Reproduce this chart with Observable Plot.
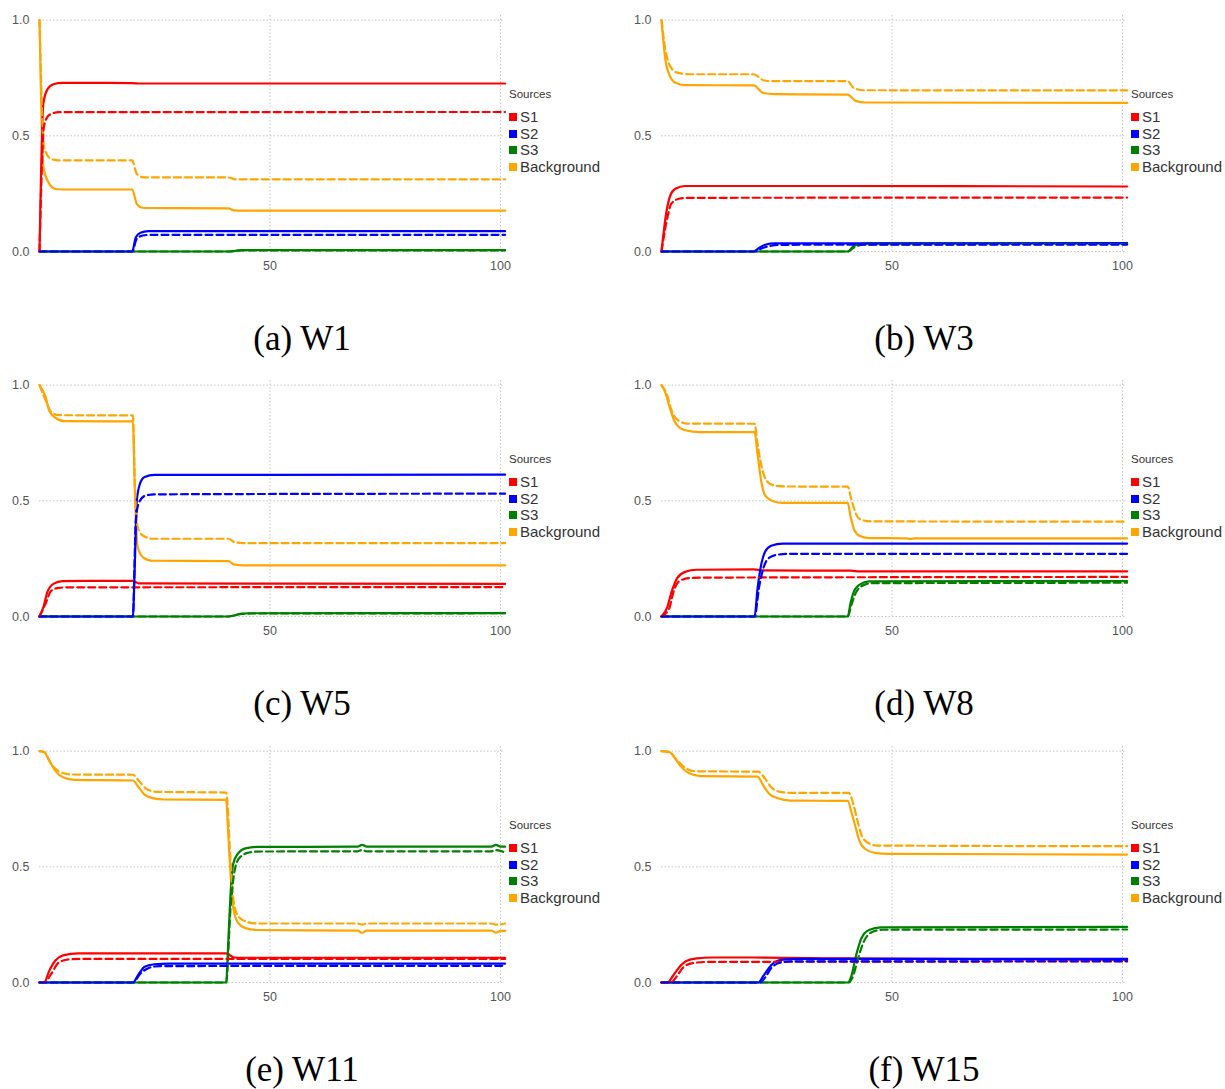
<!DOCTYPE html>
<html><head><meta charset="utf-8">
<script src="https://cdn.jsdelivr.net/npm/d3@7"></script>
<script src="https://cdn.jsdelivr.net/npm/@observablehq/plot@0.6"></script>
<style>
body{margin:0;background:#fff;}
#page{position:relative;width:1225px;height:1089px;overflow:hidden;background:#fff;}
.panel{position:absolute;width:612px;height:290px;}
.panel svg{max-width:none !important;}
.legend{position:absolute;font-family:"Liberation Sans",Arial,sans-serif;color:#333;}
.legend .title{font-size:11.5px;line-height:16px;height:16px;margin-bottom:7px;}
.legend .item{font-size:15px;line-height:16.6px;height:16.6px;display:flex;align-items:center;white-space:nowrap;}
.legend .sw{width:8px;height:8px;margin-right:3px;flex:none;}
.caption{position:absolute;font-family:"Liberation Serif","Times New Roman",serif;font-size:35px;line-height:35px;text-align:center;color:#000;white-space:nowrap;}
</style></head>
<body><div id="page"></div>
<script>
// ---- categories / styles ----
const sources = ["S1", "S2", "S3", "Background"];
const sourceColors = ["#ff0000", "#0000ff", "#008000", "#ffa500"];
const panelNames = ["W1", "W3", "W5", "W8", "W11", "W15"];
const panelLetters = ["a", "b", "c", "d", "e", "f"];
const xTicks = [50, 100];
const yTicks = [0, 0.5, 1];

// ---- W1 (solid / dashed) ----
const w1S1 = [[0,0],[0.84,0.64],[1.7,0.70],[3,0.723],[5,0.729],[20,0.728],[22,0.726],[101,0.726]];
const w1S1d = [[0,0],[1,0.545],[2.1,0.59],[4.2,0.602],[101,0.603]];
const w1S2 = [[0,0],[20.1,0],[20.9,0.062],[21.9,0.081],[23.6,0.088],[101,0.088]];
const w1S2d = [[0,0],[20.1,0],[21.1,0.055],[22.4,0.069],[24,0.072],[101,0.072]];
const w1S3 = [[0,0],[41,0],[43.9,0.006],[101,0.006]];
const w1S3d = [[0,0],[41,0],[44,0.005],[101,0.005]];
const w1Bg = [[0,1],[0.84,0.365],[1.9,0.30],[3.4,0.27],[5,0.268],[20.1,0.268],[21.1,0.206],[22.4,0.189],[24,0.188],[41,0.186],[42.2,0.178],[44,0.177],[101,0.177]];
const w1Bgd = [[0,1],[1.0,0.45],[2.5,0.40],[4.2,0.394],[20.1,0.394],[21.1,0.336],[22.8,0.32],[41,0.32],[42.5,0.312],[101,0.312]];

// ---- W3 ----
const w3S1 = [[0,0],[1,0.163],[1.9,0.242],[3,0.271],[5.1,0.283],[40,0.283],[101,0.281]];
const w3S1d = [[0,0],[1.3,0.149],[2.1,0.206],[3.8,0.228],[6,0.232],[101,0.233]];
const w3S2 = [[0,0],[20,0],[21.2,0.016],[22.5,0.029],[24.6,0.035],[101,0.036]];
const w3S2d = [[0,0],[20,0],[22.1,0.016],[23.8,0.025],[26,0.029],[101,0.030]];
const w3S3 = [[0,0],[40.4,0],[41.6,0.022],[43.3,0.033],[45,0.035],[101,0.036]];
const w3S3d = [[0,0],[40.4,0],[42,0.02],[44,0.03],[101,0.032]];
const w3Bg = [[0,1],[0.85,0.827],[1.9,0.755],[3,0.729],[5.1,0.719],[20,0.718],[22.1,0.685],[24.6,0.68],[40.4,0.678],[42.1,0.651],[44.2,0.644],[101,0.642]];
const w3Bgd = [[0,1],[0.85,0.87],[1.9,0.80],[3.4,0.773],[6,0.766],[20,0.766],[22.1,0.74],[23.8,0.736],[40.4,0.736],[41.6,0.708],[43.8,0.697],[101,0.696]];

// ---- W5 ----
const w5S1 = [[0,0],[0.84,0.04],[1.7,0.105],[3,0.141],[5,0.153],[20.3,0.154],[21.5,0.143],[101,0.141]];
const w5S1d = [[0,0],[1.3,0.055],[2.5,0.11],[4.2,0.124],[6,0.126],[101,0.127]];
const w5S2 = [[0,0],[20.25,0],[20.7,0.24],[21.1,0.50],[21.8,0.574],[22.8,0.603],[24.9,0.612],[101,0.613]];
const w5S2d = [[0,0],[20.25,0],[20.9,0.416],[21.5,0.488],[22.8,0.521],[24.9,0.528],[101,0.531]];
const w5S3 = [[0,0],[41,0],[42.2,0.004],[43.5,0.012],[45.6,0.014],[101,0.015]];
const w5S3d = [[0,0],[41,0],[42.5,0.006],[44,0.011],[46,0.013],[101,0.014]];
const w5Bg = [[0,1],[1.3,0.95],[2.1,0.89],[3.4,0.86],[5.5,0.844],[20.25,0.843],[20.7,0.53],[21.3,0.30],[22.4,0.257],[24.5,0.241],[41,0.239],[42.2,0.225],[44.3,0.221],[101,0.221]];
const w5Bgd = [[0,1],[1.3,0.935],[2.5,0.885],[4.2,0.87],[20.25,0.869],[20.7,0.56],[21.3,0.387],[22.4,0.35],[24.5,0.336],[41,0.336],[42.2,0.322],[44.3,0.317],[101,0.317]];

// ---- W8 ----
const w8S1 = [[0,0],[1.3,0.043],[2.1,0.101],[3.4,0.166],[5.1,0.193],[7.6,0.202],[20,0.204],[22,0.199],[41,0.198],[43,0.195],[101,0.195]];
const w8S1d = [[0,0],[1.7,0.036],[2.5,0.10],[3.8,0.152],[6,0.166],[9,0.168],[101,0.171]];
const w8S2 = [[0,0],[20.2,0],[20.8,0.115],[21.7,0.231],[22.5,0.281],[23.8,0.306],[26.3,0.315],[101,0.315]];
const w8S2d = [[0,0],[20.2,0],[21.2,0.13],[22.1,0.209],[23.3,0.253],[25.5,0.268],[28,0.271],[101,0.271]];
const w8S3 = [[0,0],[40.4,0],[41,0.058],[41.6,0.101],[42.9,0.137],[45,0.152],[101,0.153]];
const w8S3d = [[0,0],[40.4,0],[41.2,0.05],[42.1,0.1],[43.3,0.13],[45.5,0.144],[101,0.146]];
const w8Bg = [[0,1],[0.85,0.967],[1.7,0.909],[3,0.837],[5.1,0.805],[8.5,0.797],[20.2,0.797],[20.8,0.707],[21.7,0.577],[22.5,0.522],[24.2,0.498],[26.3,0.491],[40.4,0.491],[41,0.433],[41.8,0.375],[42.9,0.349],[45,0.339],[53,0.338],[54,0.335],[55,0.338],[101,0.338]];
const w8Bgd = [[0,1],[1.3,0.952],[2.1,0.895],[3.4,0.851],[5.5,0.834],[20.2,0.833],[20.8,0.75],[21.7,0.649],[22.9,0.584],[24.6,0.566],[27,0.562],[40.4,0.561],[41.2,0.505],[42.1,0.447],[43.3,0.418],[45.5,0.411],[101,0.41]];

// ---- W11 ----
const w11S1 = [[0,0],[1,0],[2.1,0.05],[3.4,0.094],[5.1,0.117],[8.4,0.126],[40.5,0.126],[42.2,0.108],[44,0.107],[101,0.107]];
const w11S1d = [[0,0],[1,0],[2.5,0.036],[4.2,0.087],[6.8,0.101],[10,0.102],[101,0.102]];
const w11S2 = [[0,0],[20.25,0],[21.5,0.036],[22.8,0.068],[24.9,0.079],[28,0.082],[101,0.082]];
const w11S2d = [[0,0],[20.25,0],[21.9,0.039],[23.6,0.062],[26,0.071],[101,0.072]];
const w11S3 = [[0,0],[40.5,0],[40.9,0.152],[41.4,0.368],[42,0.512],[43,0.556],[44.7,0.58],[47.3,0.586],[69,0.587],[70,0.595],[71,0.587],[98,0.587],[99,0.595],[100,0.587],[101,0.587]];
const w11S3d = [[0,0],[40.5,0],[41.4,0.31],[42.2,0.469],[43.2,0.534],[45.1,0.56],[47.3,0.566],[69,0.567],[70,0.573],[71,0.567],[98,0.567],[99,0.572],[101,0.562]];
const w11Bg = [[0,1],[1,0.996],[2.1,0.96],[3.4,0.916],[5.1,0.887],[7.6,0.876],[20.25,0.873],[21.5,0.844],[22.8,0.812],[24.5,0.797],[27,0.791],[40.5,0.789],[40.9,0.657],[41.4,0.483],[42,0.325],[43,0.26],[44.7,0.235],[47.3,0.227],[69,0.224],[70,0.215],[71,0.224],[98,0.224],[99,0.215],[100,0.223],[101,0.223]];
const w11Bgd = [[0,1],[1,0.996],[2.5,0.945],[4.2,0.913],[6.8,0.899],[20.25,0.898],[21.5,0.873],[23.2,0.837],[25.3,0.824],[40.5,0.821],[41.4,0.54],[42,0.368],[43,0.289],[44.7,0.264],[47.3,0.255],[69,0.255],[70,0.25],[71,0.255],[98,0.255],[99,0.25],[101,0.255]];

// ---- W15 ----
const w15S1 = [[0,0],[1.3,0],[2.5,0.029],[3.8,0.065],[5.5,0.094],[7.6,0.104],[11,0.108],[20,0.108],[40,0.104],[101,0.098]];
const w15S1d = [[0,0],[2,0],[3.4,0.029],[4.7,0.065],[6.8,0.084],[10.2,0.089],[101,0.091]];
const w15S2 = [[0,0],[21,0],[22.1,0.029],[23.4,0.065],[24.6,0.089],[26.8,0.1],[30,0.102],[101,0.102]];
const w15S2d = [[0,0],[21.3,0],[22.5,0.022],[23.8,0.062],[25.5,0.084],[28,0.091],[101,0.092]];
const w15S3 = [[0,0],[40.4,0],[41.2,0.029],[42.1,0.108],[43.3,0.188],[45,0.227],[47.6,0.238],[101,0.24]];
const w15S3d = [[0,0],[40.6,0],[41.6,0.03],[42.5,0.094],[43.8,0.173],[45.5,0.216],[48,0.228],[101,0.229]];
const w15Bg = [[0,1],[1.7,0.996],[3,0.967],[4.2,0.934],[5.9,0.905],[8.5,0.892],[20.8,0.89],[22.1,0.851],[23.4,0.815],[25.1,0.797],[28,0.786],[40.4,0.785],[41.2,0.736],[42.1,0.671],[42.9,0.613],[44.2,0.577],[46.3,0.56],[49.3,0.556],[101,0.553]];
const w15Bgd = [[0,1],[1.7,0.996],[3.4,0.96],[5.1,0.928],[7.2,0.913],[21,0.911],[22.5,0.88],[23.8,0.844],[25.5,0.825],[28,0.82],[40.6,0.82],[41.6,0.772],[42.5,0.70],[43.3,0.642],[44.6,0.606],[46.7,0.592],[101,0.589]];

// ---- assemble (solid then dashed, per source) ----
const panelSeries = [
  {S1:[w1S1,w1S1d],   S2:[w1S2,w1S2d],   S3:[w1S3,w1S3d],   Background:[w1Bg,w1Bgd]},
  {S1:[w3S1,w3S1d],   S2:[w3S2,w3S2d],   S3:[w3S3,w3S3d],   Background:[w3Bg,w3Bgd]},
  {S1:[w5S1,w5S1d],   S2:[w5S2,w5S2d],   S3:[w5S3,w5S3d],   Background:[w5Bg,w5Bgd]},
  {S1:[w8S1,w8S1d],   S2:[w8S2,w8S2d],   S3:[w8S3,w8S3d],   Background:[w8Bg,w8Bgd]},
  {S1:[w11S1,w11S1d], S2:[w11S2,w11S2d], S3:[w11S3,w11S3d], Background:[w11Bg,w11Bgd]},
  {S1:[w15S1,w15S1d], S2:[w15S2,w15S2d], S3:[w15S3,w15S3d], Background:[w15Bg,w15Bgd]}
];

const drawOrder = ["Background", "S3", "S1", "S2"];
const colLeft = [0, 622];
const rowTop = [0, 365, 731];
const page = document.getElementById("page");

panelNames.forEach((name, i) => {
  const left = colLeft[i % 2], top = rowTop[Math.floor(i / 2)];
  const series = panelSeries[i];
  const solidRows = [], dashedRows = [];
  for (const s of drawOrder) {
    series[s][0].forEach(([x, y]) => solidRows.push({source: s, x, y}));
    series[s][1].forEach(([x, y]) => dashedRows.push({source: s, x, y}));
  }
  const chart = Plot.plot({
    width: 612, height: 290,
    marginLeft: 39, marginRight: 107.4, marginTop: 15, marginBottom: 39,
    style: {fontFamily: '"Liberation Sans", Arial, sans-serif', fontSize: "12.5px", color: "#555", background: "transparent", overflow: "visible"},
    x: {domain: [0, 101], axis: null},
    y: {domain: [0, 1.02], axis: null},
    color: {domain: sources, range: sourceColors},
    marks: [
      Plot.gridY(yTicks, {stroke: "#c4c4c4", strokeOpacity: 1, strokeWidth: 1, strokeDasharray: "1.5,2"}),
      Plot.gridX(xTicks, {stroke: "#c4c4c4", strokeOpacity: 1, strokeWidth: 1, strokeDasharray: "1.5,2"}),
      Plot.axisY({ticks: yTicks, tickSize: 0, tickPadding: 10, fontSize: 12.5, fill: "#555", tickFormat: d3.format(".1f"), label: null}),
      Plot.axisX({ticks: xTicks, tickSize: 0, tickPadding: 10, fontSize: 12.5, fill: "#555", label: null}),
      Plot.line(solidRows, {x: "x", y: "y", z: "source", stroke: "source", strokeWidth: 2.2, curve: "monotone-x"}),
      Plot.line(dashedRows, {x: "x", y: "y", z: "source", stroke: "source", strokeWidth: 2.2, strokeDasharray: "7,4", curve: "monotone-x"})
    ]
  });
  const holder = document.createElement("div");
  holder.className = "panel";
  holder.style.left = left + "px";
  holder.style.top = top + "px";
  holder.appendChild(chart);
  page.appendChild(holder);

  // legend
  const lg = document.createElement("div");
  lg.className = "legend";
  lg.style.left = (left + 509) + "px";
  lg.style.top = (top + 86) + "px";
  const t = document.createElement("div");
  t.className = "title"; t.textContent = "Sources";
  lg.appendChild(t);
  sources.forEach((s, k) => {
    const it = document.createElement("div");
    it.className = "item";
    const sw = document.createElement("span");
    sw.className = "sw"; sw.style.background = sourceColors[k];
    const lab = document.createElement("span");
    lab.textContent = s;
    it.appendChild(sw); it.appendChild(lab);
    lg.appendChild(it);
  });
  page.appendChild(lg);

  // caption
  const cap = document.createElement("div");
  cap.className = "caption";
  cap.style.left = (left + 152) + "px";
  cap.style.width = "300px";
  cap.style.top = (top + 321) + "px";
  cap.textContent = "(" + panelLetters[i] + ") " + name;
  page.appendChild(cap);
});
</script></body></html>
